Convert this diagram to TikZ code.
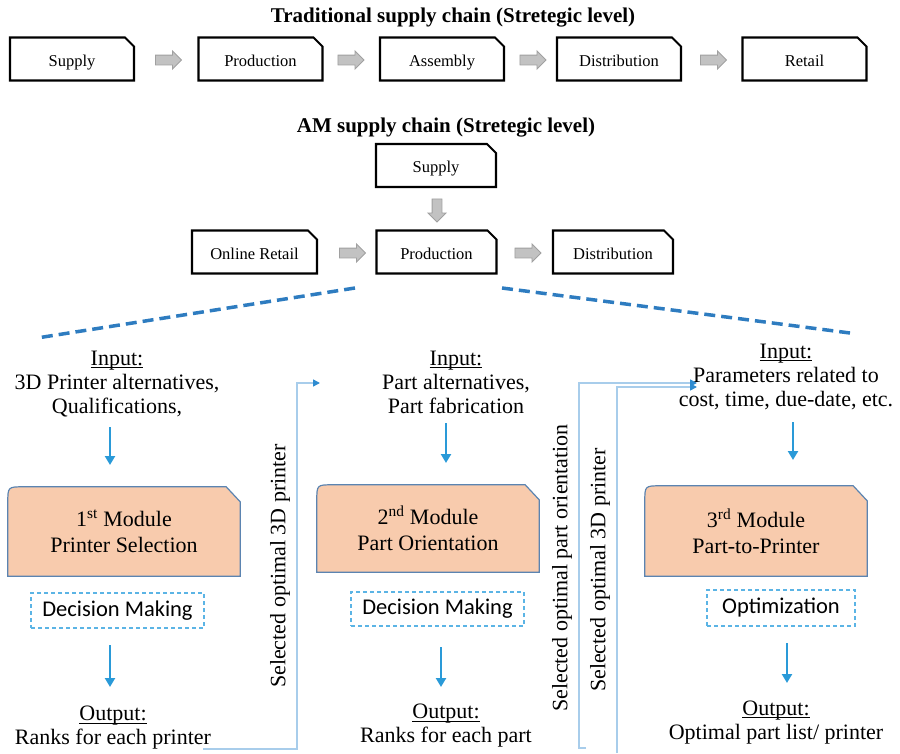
\documentclass[tikz,border=0pt]{standalone}
\usepackage{fontspec}
\setmainfont{Liberation Serif}
\newfontfamily\calfont{Carlito}
\usetikzlibrary{shapes.misc,shapes.arrows,arrows.meta,backgrounds,calc}

\definecolor{peach}{HTML}{F8CBAD}
\definecolor{modedge}{HTML}{5B84B1}
\definecolor{flowblue}{HTML}{2A9AD8}
\definecolor{dashblue}{HTML}{2E7CC0}
\definecolor{loopblue}{HTML}{A8CDEB}
\definecolor{looptip}{HTML}{2E8BD0}
\definecolor{dmblue}{HTML}{5BB4E5}
\definecolor{blockfill}{HTML}{C2C2C2}
\definecolor{blockedge}{HTML}{A0A0A0}

% underline sitting just below the baseline
\newcommand\undl[1]{\setbox0\hbox{#1}\rlap{\rule[-2.6pt]{\wd0}{1pt}}\box0}

\tikzset{
  x=1pt, y=-1pt,
  chainbox/.style={chamfered rectangle, chamfered rectangle corners=north east,
    chamfered rectangle xsep=4.5pt, chamfered rectangle ysep=4.5pt,
    draw=black, line width=2.1pt, minimum width=#1, minimum height=43pt,
    inner sep=0pt, text height=14pt, text depth=0pt,
    font=\fontsize{16.5}{18}\selectfont},
  chainbox/.default=124pt,
  title/.style={font=\fontsize{21}{24}\selectfont\bfseries, inner sep=0pt},
  blockarrow/.style={single arrow, draw=blockedge, fill=blockfill, line width=0.9pt,
    minimum height=26pt, inner xsep=0pt, inner ysep=4.5pt,
    single arrow head extend=4pt},
  downarrow/.style={blockarrow, shape border rotate=270, minimum height=23pt,
    inner xsep=4.5pt, inner ysep=0pt},
  bodytext/.style={align=center, inner sep=0pt, font=\fontsize{22}{24}\selectfont},
  modtext/.style={align=center, inner sep=0pt, font=\fontsize{22}{26}\selectfont},
  dmbox/.style={draw=dmblue, dash pattern=on 4pt off 3pt, line width=1.2pt,
    inner sep=0pt, font=\calfont\fontsize{22.5}{24}\selectfont},
  flow/.style={draw=flowblue, line width=2.5pt, -{Triangle[length=9pt,width=10pt]}},
  spread/.style={draw=dashblue, line width=3.5pt, dash pattern=on 11pt off 6pt},
  feedback/.style={draw=loopblue, line width=1.5pt},
  feedtip/.style={feedback, -{Triangle[length=7pt,width=7pt,color=looptip]}},
  sidelabel/.style={rotate=90, inner sep=0pt, font=\fontsize{22}{24}\selectfont}
}

% module panel: square bottom, rounded top-left, snipped top-right
\newcommand\modpanel[1]{%
  \path[fill=peach, draw=modedge, line width=1.2pt]
    (#1.south west) -- (#1.south east) -- ($(#1.north east)+(0,15)$)
    -- ($(#1.north east)+(-14,0)$) -- ($(#1.north west)+(16,0)$)
    .. controls (#1.north west) .. ($(#1.north west)+(0,16)$) -- cycle;}

\begin{document}
\begin{tikzpicture}
\useasboundingbox (0,0) rectangle (900,753);

% ---------- traditional chain ----------
\node[title] (ttrad) at (453,18) {Traditional supply chain (Stretegic level)};
\node[chainbox] (t1) at (72,59) {Supply};
\node[chainbox] (t2) at (260.5,59) {Production};
\node[chainbox] (t3) at (442,59) {Assembly};
\node[chainbox] (t4) at (619,59) {Distribution};
\node[chainbox] (t5) at (804.5,59) {Retail};
\node[blockarrow] (ta1) at (166,60) {};
\node[blockarrow] (ta2) at (348.5,60) {};
\node[blockarrow] (ta3) at (530.5,60) {};
\node[blockarrow] (ta4) at (711,60) {};

% ---------- AM chain ----------
\node[title] (tam) at (446,128) {AM supply chain (Stretegic level)};
\node[chainbox=120pt] (a1) at (436,165.5) {Supply};
\node[chainbox=125pt] (a2) at (254.5,252) {Online Retail};
\node[chainbox=120pt] (a3) at (436.5,252) {Production};
\node[chainbox=120pt] (a4) at (613,252) {Distribution};
\node[downarrow] (aa1) at (437,208) {};
\node[blockarrow] (aa2) at (350,253) {};
\node[blockarrow] (aa3) at (525.5,253) {};

% spread lines from production down to the modules
\coordinate (sl1) at (355,288);
\coordinate (sl2) at (37,338);
\coordinate (sr1) at (502,288);
\coordinate (sr2) at (850,333);
\draw[spread] (sl1) -- (sl2);
\draw[spread] (sr1) -- (sr2);

% ---------- modules ----------
\node[bodytext] (in1) at (117,384) {\undl{Input:}\\3D Printer alternatives,\\Qualifications,};
\node[bodytext] (in2) at (456,382) {\undl{Input:}\\Part alternatives,\\Part fabrication};
\node[bodytext] (in3) at (786,377) {\undl{Input:}\\Parameters related to\\cost, time, due-date, etc.};

\node[modtext, minimum width=232pt, minimum height=89pt] (m1) at (124,531.5)
  {1\textsuperscript{st} Module\\Printer Selection};
\node[modtext, minimum width=222pt, minimum height=87pt] (m2) at (428,528.5)
  {2\textsuperscript{nd} Module\\Part Orientation};
\node[modtext, minimum width=222pt, minimum height=90pt] (m3) at (756,531)
  {3\textsuperscript{rd} Module\\Part-to-Printer};
\begin{scope}[on background layer]
  \modpanel{m1}
  \modpanel{m2}
  \modpanel{m3}
\end{scope}

\node[dmbox, minimum width=173pt, minimum height=35pt] (d1) at (117.5,610.5) {Decision Making};
\node[dmbox, minimum width=173pt, minimum height=34pt] (d2) at (437.5,609) {Decision Making};
\node[dmbox, minimum width=148pt, minimum height=36pt] (d3) at (781,608) {Optimization};

\node[bodytext] (out1) at (113,728) {\undl{Output:}\\Ranks for each printer};
\node[bodytext] (out2) at (446,726) {\undl{Output:}\\Ranks for each part};
\node[bodytext] (out3) at (776,722.5) {\undl{Output:}\\Optimal part list/ printer};

% vertical flow arrows
\coordinate (f1a) at (110,427); \coordinate (f1b) at (110,465);
\coordinate (f2a) at (446,423); \coordinate (f2b) at (446,463);
\coordinate (f3a) at (793,422); \coordinate (f3b) at (793,460);
\coordinate (g1a) at (110,645); \coordinate (g1b) at (110,687);
\coordinate (g2a) at (441,647); \coordinate (g2b) at (441,687);
\coordinate (g3a) at (787,643); \coordinate (g3b) at (787,683);
\draw[flow] (f1a) -- (f1b);
\draw[flow] (f2a) -- (f2b);
\draw[flow] (f3a) -- (f3b);
\draw[flow] (g1a) -- (g1b);
\draw[flow] (g2a) -- (g2b);
\draw[flow] (g3a) -- (g3b);

% ---------- feedback loops ----------
\coordinate (p1s) at (203,749); \coordinate (p1b) at (297,749);
\coordinate (p1t) at (297,383); \coordinate (p1e) at (320,383);
\draw[feedtip] (p1s) -- (p1b) -- (p1t) -- (p1e);
\node[sidelabel] (s1) at (280,566) {Selected optimal 3D printer};

\coordinate (p2s) at (586,748); \coordinate (p2b) at (579,748);
\coordinate (p2t) at (579,383); \coordinate (p2e) at (697,383);
\draw[feedtip] (p2s) -- (p2b) -- (p2t) -- (p2e);
\node[sidelabel] (s2) at (562,568) {Selected optimal part orientation};

\coordinate (p3s) at (617,753); \coordinate (p3t) at (617,387);
\coordinate (p3e) at (697,387);
\draw[feedtip] (p3s) -- (p3t) -- (p3e);
\node[sidelabel] (s3) at (600,570) {Selected optimal 3D printer};

\end{tikzpicture}
\end{document}
